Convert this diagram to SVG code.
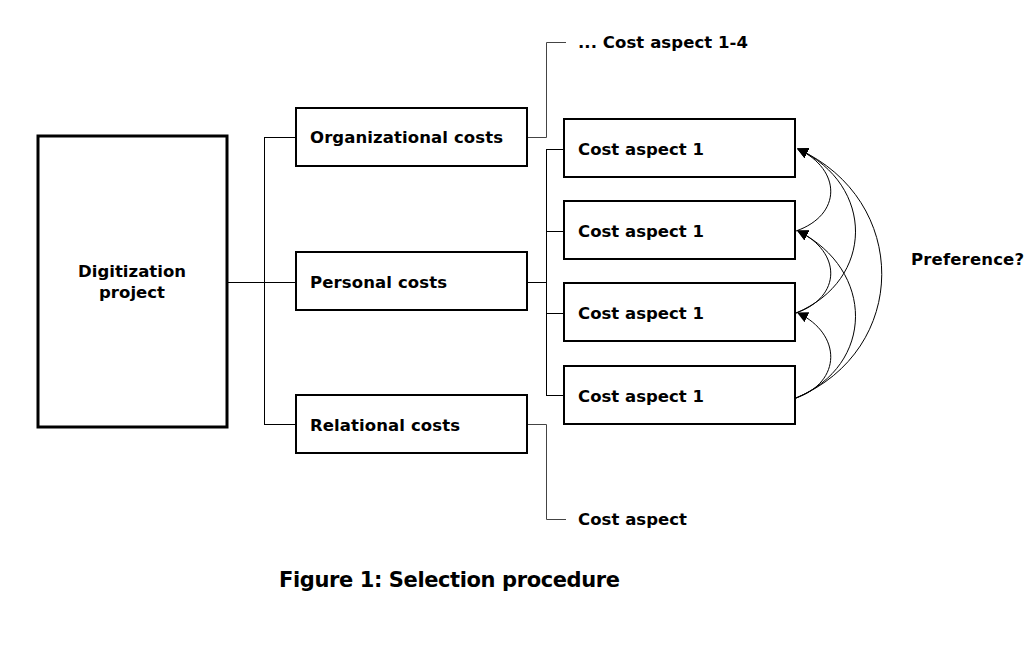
<svg xmlns="http://www.w3.org/2000/svg" width="1027" height="659" viewBox="0 0 1027 659">
<style>
.box{fill:#fff;stroke:#000;stroke-width:2}
.big{fill:#fff;stroke:#000;stroke-width:3}
.t{font-family:"DejaVu Sans",Verdana,sans-serif;font-weight:bold;font-size:16.5px;fill:#000}
.cap{font-family:"DejaVu Sans",Verdana,sans-serif;font-weight:bold;font-size:21px;fill:#000}
.ln{fill:none;stroke:#000;stroke-width:1}
.gl{fill:none;stroke:#444;stroke-width:1}
.cv{fill:none;stroke:#000;stroke-width:1;marker-end:url(#ah)}
</style>
<defs>
<marker id="ah" viewBox="0 0 10 10" refX="9" refY="5" markerWidth="11" markerHeight="11" markerUnits="userSpaceOnUse" orient="auto">
<path d="M0,0 L10,5 L0,10 z" fill="#000"/>
</marker>
</defs>
<rect width="1027" height="659" fill="#fff"/>
<g id="connectors">
<path class="ln" d="M227,282.5 H296 M264.5,137 V424 M264,137.5 H296 M264,424.5 H296"/>
<path class="gl" d="M527,137.5 H546.5 V42.5 H566"/>
<path class="ln" d="M527,282.5 H546 M546.5,149 V395 M546,149.5 H564 M546,231.5 H564 M546,313.5 H564 M546,395.5 H564"/>
<path class="gl" d="M527,424.5 H546.5 V519.5 H566"/>
<path class="cv" d="M796,231 C842,215 842,170 798,149"/>
<path class="cv" d="M796,313 C875,280 875,185 798,149"/>
<path class="cv" d="M796,398 C910,350 910,200 798,149"/>
<path class="cv" d="M796,313 C842,297 842,252 798,231"/>
<path class="cv" d="M796,398 C875,365 875,270 798,231"/>
<path class="cv" d="M796,398 C842,382 842,334 798,313"/>
</g>
<g id="digitization"><rect class="big" x="38" y="136" width="189" height="291"/>
<text class="t" x="132" y="277" text-anchor="middle" textLength="108" lengthAdjust="spacing">Digitization</text>
<text class="t" x="132" y="298" text-anchor="middle" textLength="66" lengthAdjust="spacing">project</text></g>
<g id="organizational"><rect class="box" x="296" y="108" width="231" height="58"/>
<text class="t" x="310" y="143" textLength="193" lengthAdjust="spacing">Organizational costs</text></g>
<g id="personal"><rect class="box" x="296" y="252" width="231" height="58"/>
<text class="t" x="310" y="288" textLength="137" lengthAdjust="spacing">Personal costs</text></g>
<g id="relational"><rect class="box" x="296" y="395" width="231" height="58"/>
<text class="t" x="310" y="431" textLength="150" lengthAdjust="spacing">Relational costs</text></g>
<g id="aspect1"><rect class="box" x="564" y="119" width="231" height="58"/>
<text class="t" x="578" y="155" textLength="126" lengthAdjust="spacing">Cost aspect 1</text></g>
<g id="aspect2"><rect class="box" x="564" y="201" width="231" height="58"/>
<text class="t" x="578" y="237" textLength="126" lengthAdjust="spacing">Cost aspect 1</text></g>
<g id="aspect3"><rect class="box" x="564" y="283" width="231" height="58"/>
<text class="t" x="578" y="319" textLength="126" lengthAdjust="spacing">Cost aspect 1</text></g>
<g id="aspect4"><rect class="box" x="564" y="366" width="231" height="58"/>
<text class="t" x="578" y="402" textLength="126" lengthAdjust="spacing">Cost aspect 1</text></g>
<g id="org-aspects"><text class="t" x="578" y="48" textLength="170" lengthAdjust="spacing">... Cost aspect 1-4</text></g>
<g id="rel-aspect"><text class="t" x="578" y="525" textLength="109" lengthAdjust="spacing">Cost aspect</text></g>
<g id="preference"><text class="t" x="911" y="265" textLength="113" lengthAdjust="spacing">Preference?</text></g>
<text class="cap" x="279" y="587" textLength="341" lengthAdjust="spacing">Figure 1: Selection procedure</text>
</svg>
